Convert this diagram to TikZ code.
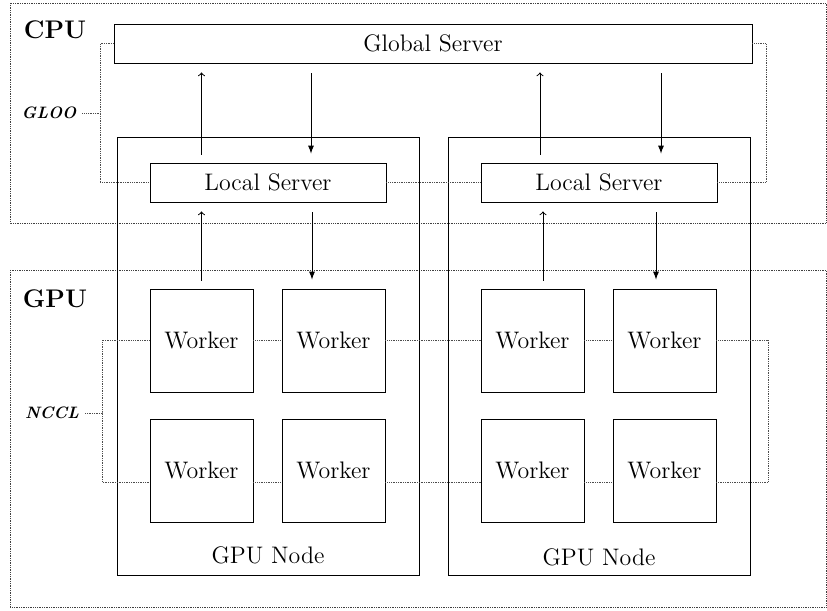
\documentclass[tikz,border=0pt]{standalone}
\usepackage{tikz}

\begin{document}
\begin{tikzpicture}[
    txt/.style={font=\fontsize{13.6}{16}\selectfont},
    box/.style={shape=rectangle,draw=black,line width=0.55pt,inner sep=0pt,txt},
    server/.style={box,minimum width=4.72cm,minimum height=0.78cm},
    worker/.style={box,minimum width=2.06cm,minimum height=2.06cm},
    gpunode/.style={shape=rectangle,draw=black,line width=0.55pt,minimum width=6.04cm,minimum height=8.76cm},
    link/.style={dash pattern=on 0.4pt off 0.6pt,black!70},
    region/.style={dash pattern=on 0.4pt off 0.6pt,black!75},
    up/.style={->,line width=0.55pt,shorten <=0.16cm,shorten >=0.18cm},
    down/.style={-latex,line width=0.55pt,shorten <=0.2cm,shorten >=0.18cm},
    side/.style={font=\fontsize{9.4}{11}\selectfont\bfseries\itshape},
    title/.style={font=\fontsize{14.5}{17}\selectfont\bfseries}
  ]
      \useasboundingbox (0,0) rectangle (16.54,-12.22);

      % CPU and GPU regions
      \draw[region] (0.2,-0.06) rectangle (16.52,-4.46);
      \draw[region] (0.2,-5.4) rectangle (16.52,-12.14);
      \node[title] (CPU) at (1.1,-0.6) {CPU};
      \node[title] (GPU) at (1.1,-5.98) {GPU};

      \node[gpunode] (N1) at (5.36,-7.12) {};
      \node[gpunode] (N2) at (11.98,-7.12) {};
      \node[txt] (N1lbl) at (5.36,-11.1) {GPU Node};
      \node[txt] (N2lbl) at (11.98,-11.14) {GPU Node};

      \node[box,minimum width=12.76cm,minimum height=0.78cm] (GS) at (8.66,-0.87) {Global Server};

      \node[server] (L1) at (5.36,-3.65) {Local Server};
      \node[server] (L2) at (11.98,-3.65) {Local Server};

      \node[worker] (W1a) at (4.03,-6.81) {Worker};
      \node[worker] (W1b) at (6.67,-6.81) {Worker};
      \node[worker] (W1c) at (4.03,-9.41) {Worker};
      \node[worker] (W1d) at (6.67,-9.41) {Worker};
      \node[worker] (W2a) at (10.65,-6.81) {Worker};
      \node[worker] (W2b) at (13.29,-6.81) {Worker};
      \node[worker] (W2c) at (10.65,-9.41) {Worker};
      \node[worker] (W2d) at (13.29,-9.41) {Worker};

      % global <-> local
      \draw[up] (L1.north -| W1a) -- (GS.south -| W1a);
      \draw[down] ([xshift=0.86cm]GS.south -| L1) -- ([xshift=0.86cm]L1.north);
      \draw[up] ([xshift=-1.18cm]L2.north) -- ([xshift=-1.18cm]GS.south -| L2);
      \draw[down] ([xshift=1.24cm]GS.south -| L2) -- ([xshift=1.24cm]L2.north);

      % local <-> workers
      \draw[up] (W1a.north) -- (L1.south -| W1a);
      \draw[down] ([xshift=0.88cm]L1.south) -- ([xshift=0.88cm]L1.south |- W1b.north);
      \draw[up] ([xshift=-1.12cm]L2.south |- W2a.north) -- ([xshift=-1.12cm]L2.south);
      \draw[down] ([xshift=1.14cm]L2.south) -- ([xshift=1.14cm]L2.south |- W2b.north);

      % GLOO links
      \node[side] (GLOO) at (0.98,-2.26) {GLOO};
      \coordinate (gl) at (2.0,-2.26);
      \coordinate (gr) at (15.32,-2.26);
      \draw[link] (GLOO) -- (gl);
      \draw[link] (GS.west) -| (gl) |- (L1.west);
      \draw[link] (GS.east) -| (gr) |- (L2.east);
      \draw[link] (L1.east) -- (L2.west);

      % NCCL links
      \node[side] (NCCL) at (1.04,-8.26) {NCCL};
      \coordinate (nl) at (2.04,-8.26);
      \coordinate (nr) at (15.36,-8.26);
      \draw[link] (NCCL) -- (nl);
      \draw[link] (W1a.west) -| (nl) |- ([yshift=-0.23cm]W1c.west);
      \draw[link] (W2b.east) -| (nr) |- ([yshift=-0.23cm]W2d.east);
      \draw[link] (W1a.east) -- (W1b.west) (W1b.east) -- (W2a.west) (W2a.east) -- (W2b.west);
      \draw[link] ([yshift=-0.23cm]W1c.east) -- ([yshift=-0.23cm]W1d.west)
                  ([yshift=-0.23cm]W1d.east) -- ([yshift=-0.23cm]W2c.west)
                  ([yshift=-0.23cm]W2c.east) -- ([yshift=-0.23cm]W2d.west);
  \end{tikzpicture}
\end{document}
